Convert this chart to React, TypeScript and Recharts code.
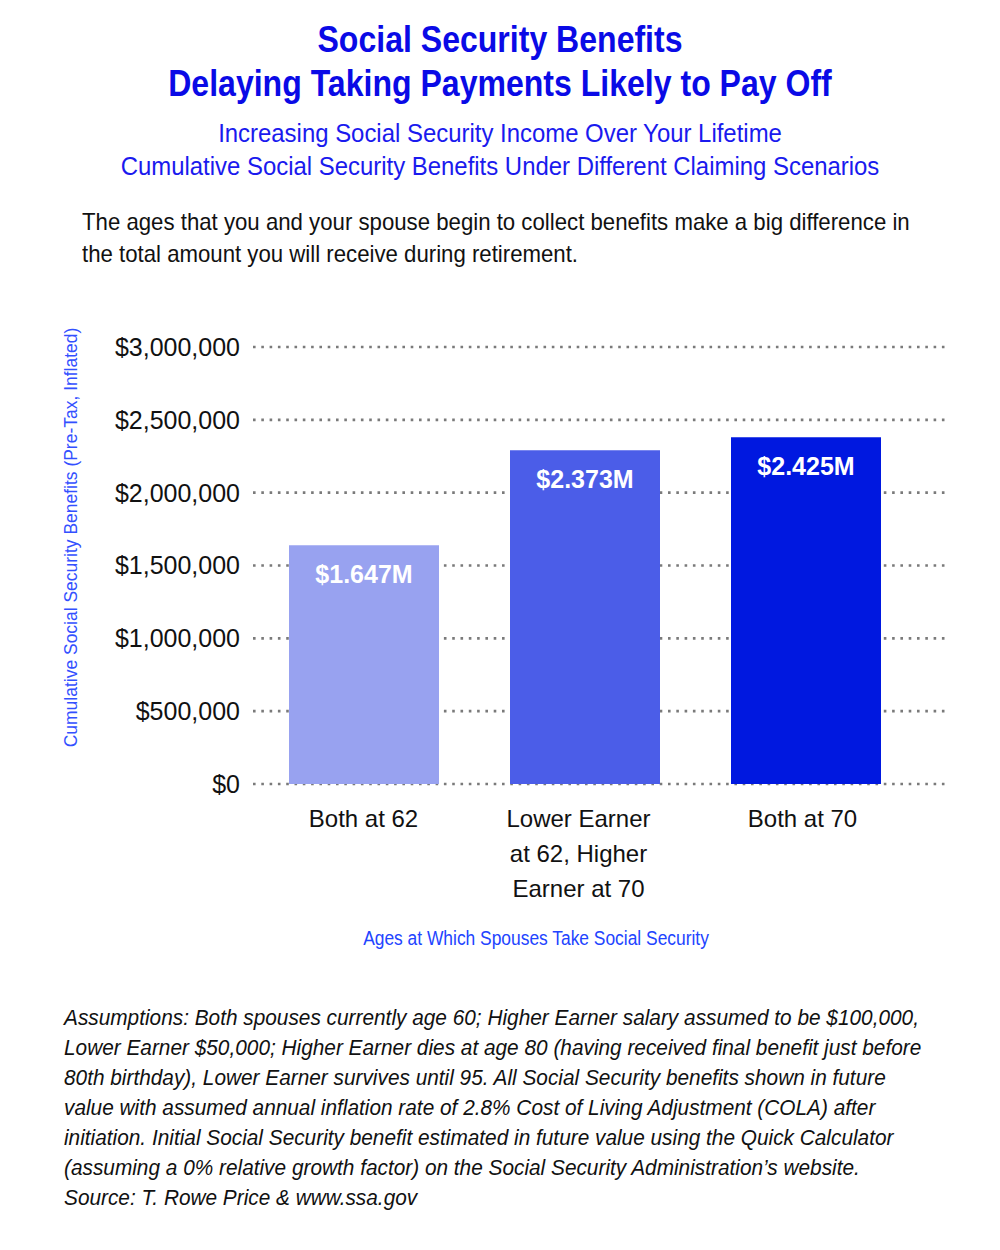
import React from 'react';
import { BarChart, Bar, XAxis, YAxis, CartesianGrid, Cell, LabelList, Label } from 'recharts';

const scenarios = ['Both at 62', 'Lower Earner at 62, Higher Earner at 70', 'Both at 70'];
const scenarioLines = [['Both at 62'], ['Lower Earner', 'at 62, Higher', 'Earner at 70'], ['Both at 70']];
// bar heights as drawn in the picture, label text as printed on the bars
const benefits = [1639000, 2292000, 2381000];
const benefitLabels = ['$1.647M', '$2.373M', '$2.425M'];
const barColors = ['#98A2F0', '#4B5DE8', '#0018E0'];
const yTicks = [0, 500000, 1000000, 1500000, 2000000, 2500000, 3000000];

const chartData = scenarios.map((name, i) => ({ name, value: benefits[i], label: benefitLabels[i] }));

const SANS = '"Liberation Sans", Arial, sans-serif';
// the original tick texts sit a touch left of their bars
const tickNudge = [0, -6, -3];

const fmtDollar = (v: number) => '$' + v.toLocaleString('en-US');

// condensed line of html text (no narrow fonts installed, so squeeze it)
const Squeezed = ({ children, sx, center }: { children: React.ReactNode; sx: number; center?: boolean }) => (
    <div style={{ whiteSpace: 'nowrap', transform: `scaleX(${sx})`, transformOrigin: center ? '50% 0' : '0 0' }}>{children}</div>
);

const ScenarioTick = (props: any) => {
    const { x, y, index } = props;
    const lines = scenarioLines[index] || [];
    const cx = x + (tickNudge[index] || 0);
    return (
        <text x={cx} y={y} textAnchor="middle" fill="#111" fontFamily={SANS} fontSize={24}>
            {lines.map((ln, i) => (
                <tspan key={i} x={cx} dy={i === 0 ? 35 : 35}>{ln}</tspan>
            ))}
        </text>
    );
};

const footnote = [
    'Assumptions: Both spouses currently age 60; Higher Earner salary assumed to be $100,000,',
    'Lower Earner $50,000; Higher Earner dies at age 80 (having received final benefit just before',
    '80th birthday), Lower Earner survives until 95. All Social Security benefits shown in future',
    'value with assumed annual inflation rate of 2.8% Cost of Living Adjustment (COLA) after',
    'initiation. Initial Social Security benefit estimated in future value using the Quick Calculator',
    '(assuming a 0% relative growth factor) on the Social Security Administration’s website.',
    'Source: T. Rowe Price & www.ssa.gov',
];

const App: React.FC = () => {
    return (
        <div style={{ position: 'absolute', left: 0, top: 0, width: 1000, height: 1250, background: '#fff', overflow: 'hidden' }}>
            {/* Titles */}
            <div style={{ position: 'absolute', top: 18, left: 0, width: 1000, textAlign: 'center', color: '#0A0AE6', fontFamily: SANS, fontWeight: 700, fontSize: 36, lineHeight: '44px' }}>
                <Squeezed sx={0.89} center>Social Security Benefits</Squeezed>
                <Squeezed sx={0.89} center>Delaying Taking Payments Likely to Pay Off</Squeezed>
            </div>
            <div style={{ position: 'absolute', top: 117, left: 0, width: 1000, textAlign: 'center', color: '#1A1AEE', fontFamily: SANS, fontSize: 26, lineHeight: '33px' }}>
                <Squeezed sx={0.92} center>Increasing Social Security Income Over Your Lifetime</Squeezed>
                <Squeezed sx={0.92} center>Cumulative Social Security Benefits Under Different Claiming Scenarios</Squeezed>
            </div>
            <div style={{ position: 'absolute', top: 206, left: 82, width: 900, color: '#111', fontFamily: SANS, fontSize: 24, lineHeight: '32px' }}>
                <Squeezed sx={0.925}>The ages that you and your spouse begin to collect benefits make a big difference in</Squeezed>
                <Squeezed sx={0.925}>the total amount you will receive during retirement.</Squeezed>
            </div>

            {/* Chart */}
            <div style={{ position: 'absolute', top: 300, left: 0 }}>
                <BarChart width={1000} height={700} data={chartData} margin={{ top: 47, right: 55, bottom: 0, left: 0 }}>
                    <CartesianGrid vertical={false} stroke="#7A7A7A" strokeWidth={2.6} strokeDasharray="2.6 5.7" />
                    <XAxis
                        dataKey="name"
                        axisLine={false}
                        tickLine={false}
                        height={216}
                        padding={{ left: 0, right: 29 }}
                        tick={<ScenarioTick />}
                        interval={0}
                    >
                        <Label
                            content={({ viewBox }: any) => (
                                <text transform={`translate(536, ${viewBox.y + 161}) scale(0.87, 1)`} x={0} y={0} textAnchor="middle" fill="#2244FF" fontFamily={SANS} fontSize={20}>
                                    Ages at Which Spouses Take Social Security
                                </text>
                            )}
                        />
                    </XAxis>
                    <YAxis
                        width={253}
                        domain={[0, 3000000]}
                        ticks={yTicks}
                        axisLine={false}
                        tickLine={false}
                        tickSize={0}
                        tickMargin={13}
                        tickFormatter={fmtDollar}
                        tick={{ fill: '#111', fontFamily: SANS, fontSize: 25 }}
                        interval={0}
                    >
                        <Label
                            content={({ viewBox }: any) => {
                                const cy = viewBox.y + viewBox.height / 2 - 28;
                                return (
                                    <text transform={`translate(77, ${cy}) rotate(-90) scale(0.92, 1)`} x={0} y={0} textAnchor="middle" fill="#3350FF" fontFamily={SANS} fontSize={19}>
                                        Cumulative Social Security Benefits (Pre-Tax, Inflated)
                                    </text>
                                );
                            }}
                        />
                    </YAxis>
                    <Bar dataKey="value" barSize={150} isAnimationActive={false}>
                        {chartData.map((_, i) => (
                            <Cell key={i} fill={barColors[i]} />
                        ))}
                        <LabelList
                            dataKey="label"
                            position="insideTop"
                            offset={20}
                            fill="#fff"
                            fontFamily={SANS}
                            fontWeight={700}
                            fontSize={25}
                        />
                    </Bar>
                </BarChart>
            </div>

            {/* Footnote */}
            <div style={{ position: 'absolute', top: 1003, left: 64, width: 920, color: '#111', fontFamily: SANS, fontStyle: 'italic', fontSize: 22.5, lineHeight: '30px' }}>
                {footnote.map((ln, i) => (
                    <Squeezed key={i} sx={0.925}>{ln}</Squeezed>
                ))}
            </div>
        </div>
    );
};

export default App;
